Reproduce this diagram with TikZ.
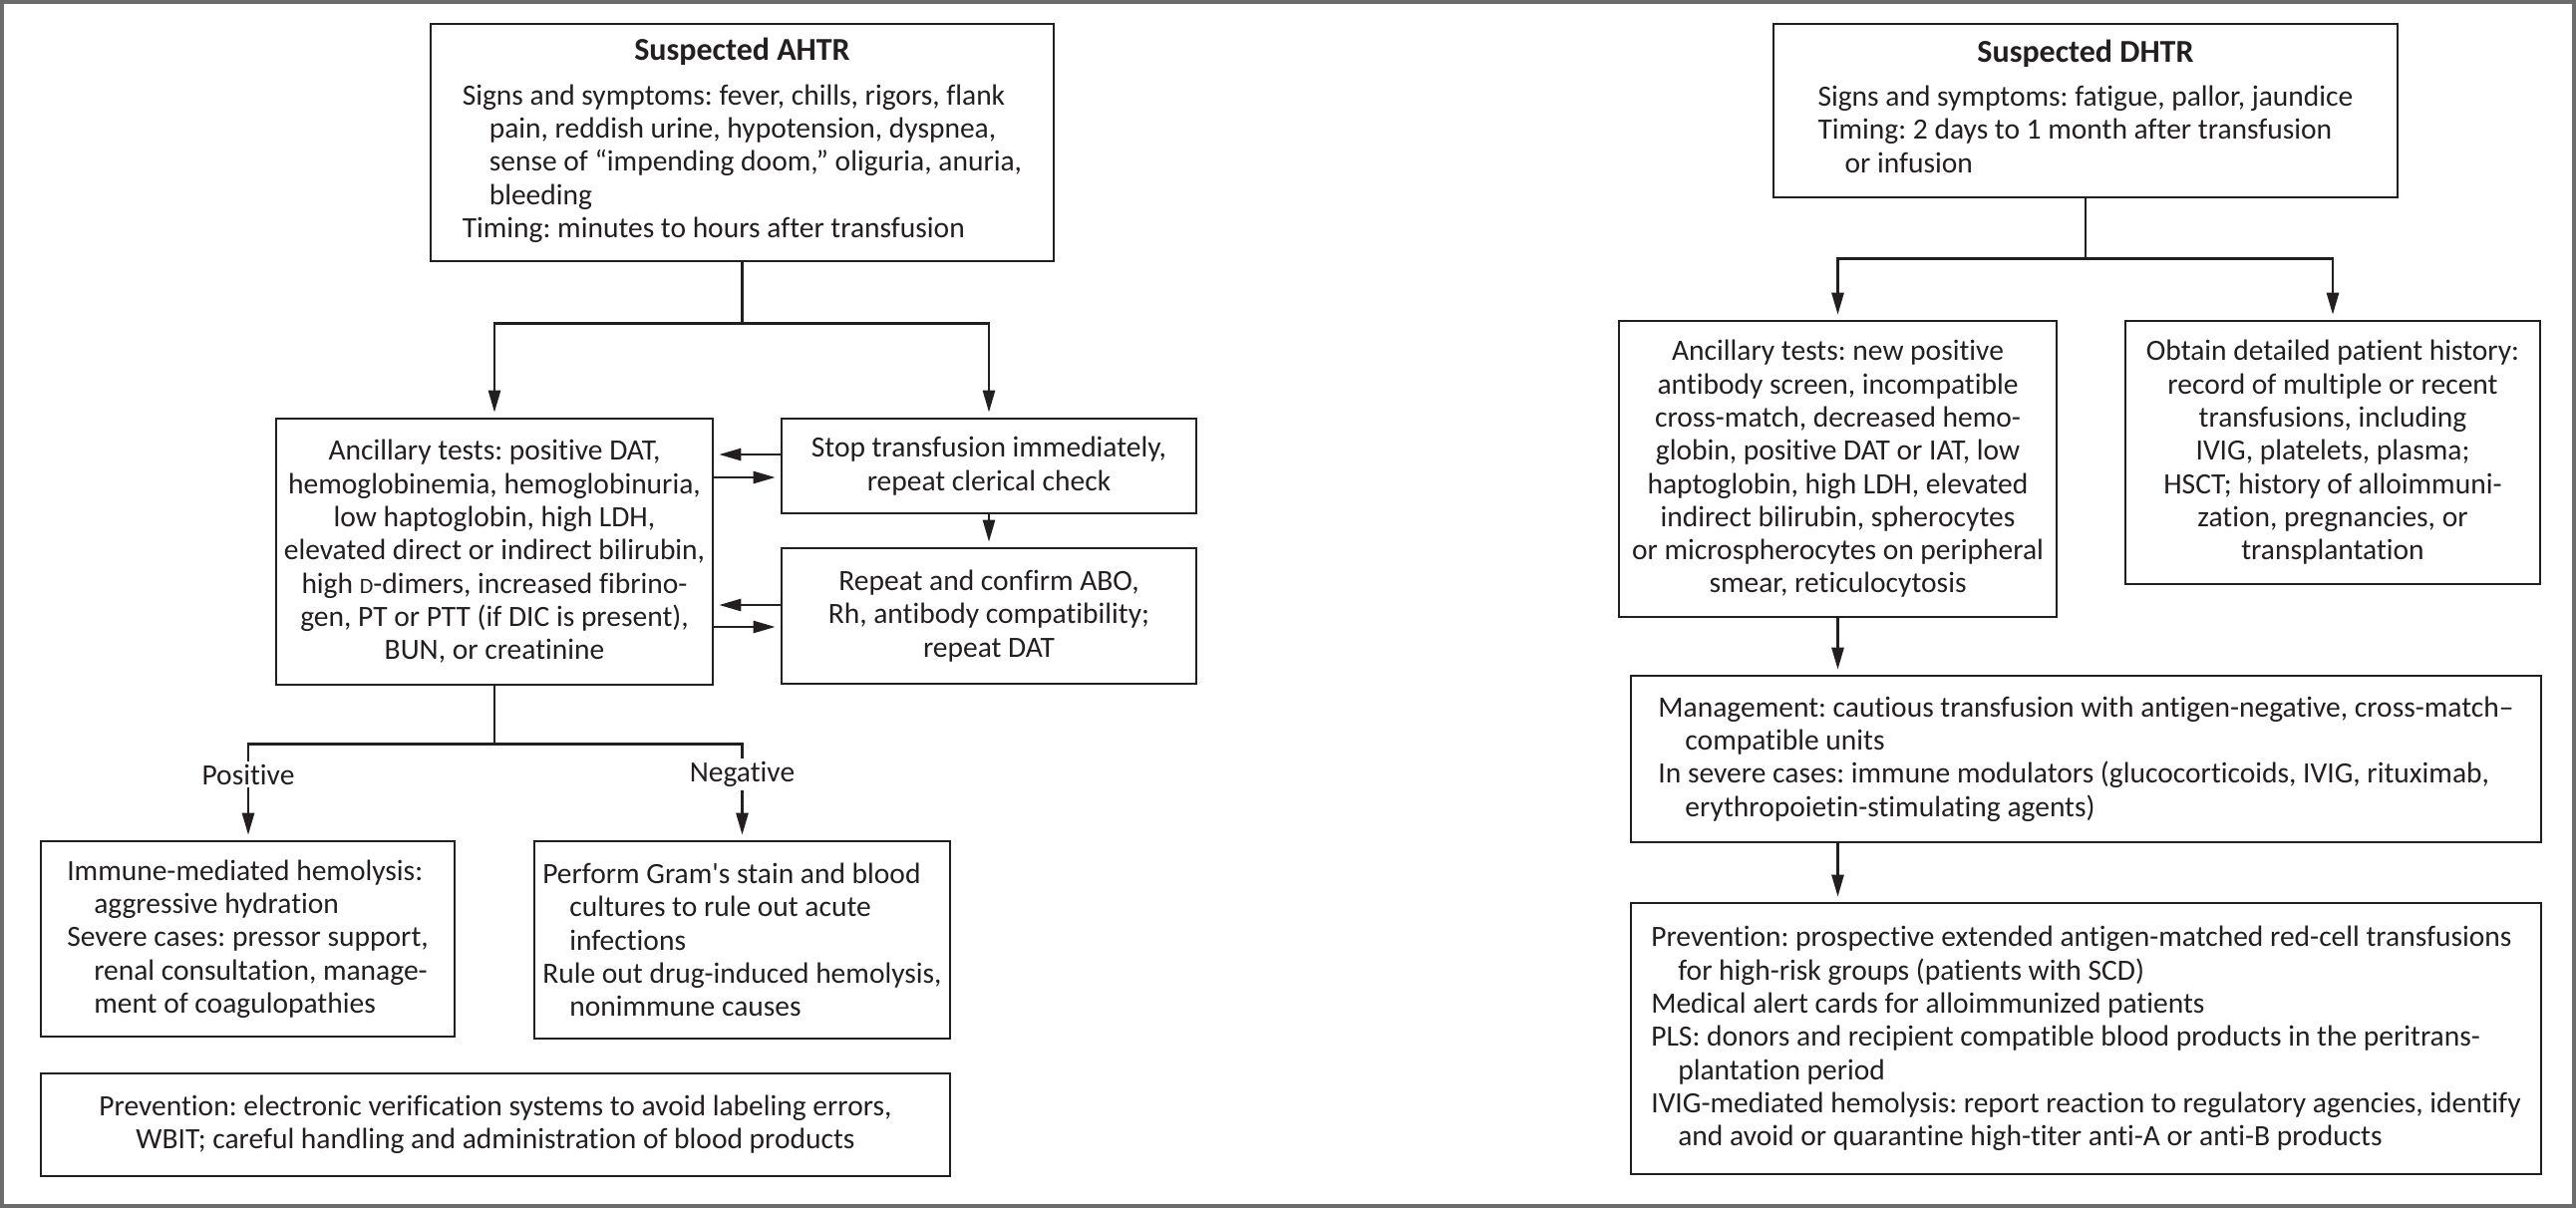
\documentclass[tikz,border=0pt]{standalone}
\usepackage{fontspec}
\setmainfont[Ligatures={TeX,NoCommon}]{Carlito}
\usetikzlibrary{arrows.meta,calc}
\definecolor{ink}{HTML}{231F20}
\definecolor{framegray}{HTML}{6B6B6B}
\newcommand{\ind}{\hspace*{27pt}}
\newcommand{\smD}{{\fontsize{22}{22}\selectfont D}}
\frenchspacing
\begin{document}
\begin{tikzpicture}[x=1pt,y=-1pt,
  every node/.style={font=\fontsize{29.5}{33.3}\selectfont, text=ink},
  box/.style={draw=ink, line width=2.6pt, inner sep=0pt, align=center},
  lbox/.style={box, align=left},
  conn/.style={draw=ink, line width=2.6pt},
  arr/.style={conn, -{Triangle[length=22pt,width=12pt]}, shorten >=5pt},
  lbl/.style={inner sep=3pt}
]
\useasboundingbox (0,0) rectangle (2584,1212);
\draw[framegray, line width=4pt] (2,2) rectangle (2582,1210);

% ---------------- AHTR side ----------------
\node[box, minimum width=625pt, minimum height=238pt] (ahtr) at (744.5,143) {%
\begin{tabular}{@{}l@{}}
\multicolumn{1}{@{}c@{}}{\fontsize{32}{33}\selectfont\bfseries Suspected AHTR}\\[11pt]
Signs and symptoms: fever, chills, rigors, flank\\
\ind pain, reddish urine, hypotension, dyspnea,\\
\ind sense of “impending doom,” oliguria, anuria,\\
\ind bleeding\\
Timing: minutes to hours after transfusion
\end{tabular}};

\node[box, minimum width=438pt, minimum height=267pt] (ancA) at (496,553.5) {%
Ancillary tests: positive DAT,\\
hemoglobinemia, hemoglobinuria,\\
low haptoglobin, high LDH,\\
elevated direct or indirect bilirubin,\\
high \smD-dimers, increased fibrino-\\
gen, PT or PTT (if DIC is present),\\
BUN, or creatinine};

\node[box, minimum width=416pt, minimum height=95pt] (stop) at (992,467.5) {%
Stop transfusion immediately,\\
repeat clerical check};

\node[box, minimum width=416pt, minimum height=136pt] (repeat) at (992,618) {%
Repeat and confirm ABO,\\
Rh, antibody compatibility;\\
repeat DAT};

\node[lbox, minimum width=415pt, minimum height=196pt] (immune) at (248.5,942) {%
Immune-mediated hemolysis:\\
\ind aggressive hydration\\
Severe cases: pressor support,\\
\ind renal consultation, manage-\\
\ind ment of coagulopathies};

\node[lbox, minimum width=417pt, minimum height=198pt] (gram) at (744.5,943) {%
Perform Gram\textquotesingle s stain and blood\\
\ind cultures to rule out acute\\
\ind infections\\
Rule out drug-induced hemolysis,\\
\ind nonimmune causes};

\node[box, minimum width=912pt, minimum height=103pt] (prevA) at (497,1128.5) {%
Prevention: electronic verification systems to avoid labeling errors,\\
WBIT; careful handling and administration of blood products};

\node[lbl] (pos) at (249,777) {Positive};
\node[lbl] (neg) at (744.5,777) {Negative};

\coordinate (aj) at ($(ahtr.south)+(0,61)$);
\draw[conn] (ahtr.south) -- (aj);
\draw[arr] (aj) -| (ancA.north);
\draw[arr] (aj) -| (stop.north);

\draw[arr] ($(stop.west)+(0,-11.5)$) -- ($(stop.west -| ancA.east)+(0,-11.5)$);
\draw[arr] ($(stop.west -| ancA.east)+(0,11.5)$) -- ($(stop.west)+(0,11.5)$);
\draw[arr] ($(repeat.west)+(0,-11)$) -- ($(repeat.west -| ancA.east)+(0,-11)$);
\draw[arr] ($(repeat.west -| ancA.east)+(0,11)$) -- ($(repeat.west)+(0,11)$);
\draw[arr] (stop.south) -- (repeat.north);

\coordinate (bj) at ($(ancA.south)+(0,58)$);
\draw[conn] (ancA.south) -- (bj);
\draw[conn] (bj) -| (pos.north);
\draw[conn] (bj) -| (neg.north);
\draw[arr] (pos.south) -- (pos.south |- immune.north);
\draw[arr] (neg.south) -- (neg.south |- gram.north);

% ---------------- DHTR side ----------------
\node[box, minimum width=626pt, minimum height=174pt] (dhtr) at (2092,111) {%
\begin{tabular}{@{}l@{}}
\multicolumn{1}{@{}c@{}}{\fontsize{32}{33}\selectfont\bfseries Suspected DHTR}\\[11pt]
Signs and symptoms: fatigue, pallor, jaundice\\
Timing: 2 days to 1 month after transfusion\\
\ind or infusion
\end{tabular}};

\node[box, minimum width=439pt, minimum height=297pt] (ancD) at (1843.5,470.5) {%
Ancillary tests: new positive\\
antibody screen, incompatible\\
cross-match, decreased hemo-\\
globin, positive DAT or IAT, low\\
haptoglobin, high LDH, elevated\\
indirect bilirubin, spherocytes\\
or microspherocytes on peripheral\\
smear, reticulocytosis};

\node[box, minimum width=416pt, minimum height=264pt] (obtain) at (2340,454) {%
Obtain detailed patient history:\\
record of multiple or recent\\
transfusions, including\\
IVIG, platelets, plasma;\\
HSCT; history of alloimmuni-\\
zation, pregnancies, or\\
transplantation};

\node[lbox, minimum width=913pt, minimum height=167pt] (manage) at (2092.5,761.5) {%
Management: cautious transfusion with antigen-negative, cross-match–\\
\ind compatible units\\
In severe cases: immune modulators (glucocorticoids, IVIG, rituximab,\\
\ind erythropoietin-stimulating agents)};

\node[lbox, minimum width=913pt, minimum height=272pt] (prevD) at (2092.5,1042) {%
Prevention: prospective extended antigen-matched red-cell transfusions\\
\ind for high-risk groups (patients with SCD)\\
Medical alert cards for alloimmunized patients\\
PLS: donors and recipient compatible blood products in the peritrans-\\
\ind plantation period\\
IVIG-mediated hemolysis: report reaction to regulatory agencies, identify\\
\ind and avoid or quarantine high-titer anti-A or anti-B products};

\coordinate (dj) at ($(dhtr.south)+(0,60)$);
\draw[conn] (dhtr.south) -- (dj);
\draw[arr] (dj) -| (ancD.north);
\draw[arr] (dj) -| (obtain.north);
\draw[arr] (ancD.south) -- (ancD.south |- manage.north);
\draw[arr] (ancD.south |- manage.south) -- (ancD.south |- prevD.north);
\end{tikzpicture}
\end{document}
